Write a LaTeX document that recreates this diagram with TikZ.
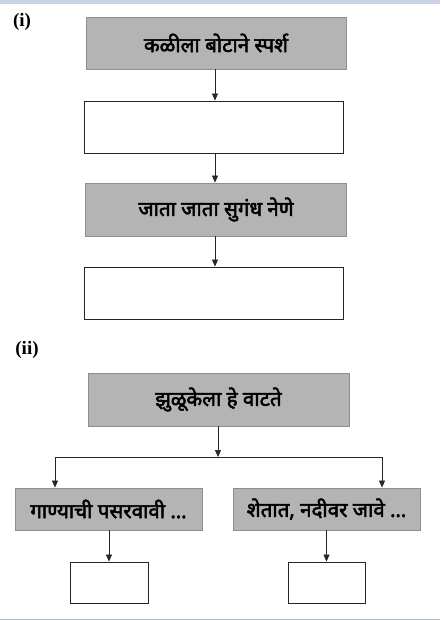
\documentclass[tikz,border=0pt]{standalone}
\usepackage{fontspec}
\usepackage{tikz}
\usetikzlibrary{positioning,arrows.meta,calc}
\newfontfamily\deva[Script=Devanagari, FakeBold=2.5]{Noto Sans}
\newfontfamily\tagfont{Liberation Serif}
\definecolor{boxgrey}{HTML}{B4B4B4}
\definecolor{edgegrey}{HTML}{8E8E8E}
\definecolor{bandblue}{HTML}{C9D3E3}
\definecolor{bandgrey}{HTML}{B3BAC2}
\tikzset{
  given/.style  = {rectangle, draw=edgegrey, fill=boxgrey, line width=0.8pt, inner sep=0pt,
                   align=center, font=\deva\fontsize{20.5}{23}\selectfont},
  blank/.style  = {rectangle, draw=black!85, fill=white, line width=0.9pt, inner sep=0pt},
  flow/.style   = {-{Triangle[length=7pt, width=6pt]}, line width=0.7pt, draw=black!85},
  tag/.style    = {font=\tagfont\bfseries\fontsize{19}{21}\selectfont},
}

\begin{document}
\begin{tikzpicture}[x=1pt, y=-1pt]
  \useasboundingbox (0,0) rectangle (440,620);
  \fill[bandblue] (0,0) rectangle (440,4);
  \fill[bandgrey] (0,618.5) rectangle (440,620);

  %% ---- (i): a straight chain of four boxes -------------------------------------
  \node[tag] (tagA) at (22,22) {(i)};

  \node[given, minimum width=260pt, minimum height=52pt] (touch) at (216,43) {कळीला बोटाने स्पर्श};
  \node[blank, minimum width=259pt, minimum height=52pt] (gapA)  at (214,127) {};
  \node[given, minimum width=261pt, minimum height=53pt] (scent) at (216,209.5) {जाता जाता सुगंध नेणे};
  \node[blank, minimum width=259pt, minimum height=52pt] (gapB)  at (214,293) {};

  \foreach \a/\b in {touch/gapA, gapA/scent, scent/gapB}
    \draw[flow] (\a.south -| 215,0) -- (\b.north -| 215,0);

  %% ---- (ii): one box forking into two -----------------------------------------
  \node[tag] (tagB) at (27,350) {(ii)};

  \node[given, minimum width=261pt, minimum height=53pt] (sway) at (218.5,399.5) {झुळूकेला हे वाटते};
  \node[given, minimum width=187pt, minimum height=42pt] (song) at (108.5,509) {गाण्याची पसरवावी \dots};
  \node[given, minimum width=187pt, minimum height=42pt] (field) at (326.5,509) {शेतात, नदीवर जावे \dots};
  \node[blank, minimum width=78pt, minimum height=41pt]  (gapC) at (109,582.5) {};
  \node[blank, minimum width=77pt, minimum height=41pt]  (gapD) at (326.5,582.5) {};

  % the fork
  \coordinate (fork) at (218,457);
  \coordinate (forkL) at (55,457);
  \coordinate (forkR) at (382,457);
  \draw[flow] (sway.south -| fork) -- (fork);
  \draw[line width=0.7pt, draw=black!85] (forkL) -- (forkR);
  \draw[flow] (forkL) -- (forkL |- song.north);
  \draw[flow] (forkR) -- (forkR |- field.north);

  \draw[flow] (song.south -| gapC) -- (gapC.north);
  \draw[flow] (field.south -| gapD) -- (gapD.north);
\end{tikzpicture}
\end{document}
